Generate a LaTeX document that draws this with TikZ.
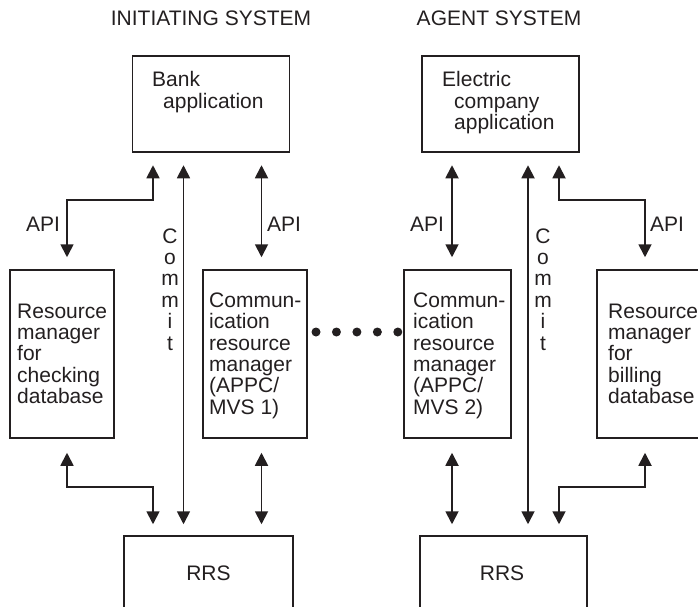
\documentclass[tikz,border=0pt]{standalone}
\usepackage{fontspec}
\setmainfont{Liberation Sans}
\usetikzlibrary{arrows.meta,calc}
\definecolor{ink}{RGB}{35,31,32}
\newcommand\stackL[1]{\vtop{\halign{##\hfil\cr#1\crcr}}}
\newcommand\stackC[1]{\vtop{\halign{\hfil##\hfil\cr#1\crcr}}}
\begin{document}
\begin{tikzpicture}[x=1pt,y=-1pt,
  font=\fontsize{21}{21.4}\selectfont,
  box/.style={draw=ink, line width=1.5pt, inner sep=0pt, rectangle},
  txt/.style={inner sep=0pt, anchor=base west, text=ink},
  ctxt/.style={inner sep=0pt, anchor=base, text=ink},
  conn/.style={draw=ink, line width=1.8pt,
    {Triangle[length=13pt,width=13pt]}-{Triangle[length=13pt,width=13pt]}},
  fromtop/.style={shorten <=12.5pt},
  frombot/.style={shorten <=14pt},
  totop/.style={shorten >=12pt},
  torrs/.style={shorten >=11pt}]
\path[use as bounding box] (0,0) rectangle (698,607);
\clip (0,0) rectangle (698,607);

% titles
\node[ctxt] (t1) at (211,26) {INITIATING SYSTEM};
\node[ctxt] (t2) at (499,26) {AGENT SYSTEM};

% boxes
\node[box, minimum width=156.6pt, minimum height=96pt] (bank) at (211,104) {};
\node[box, minimum width=157pt, minimum height=96pt] (elec) at (500.5,104) {};
\node[box, minimum width=104pt, minimum height=168pt] (rm1) at (62,354) {};
\node[box, minimum width=104pt, minimum height=168pt] (cm1) at (255,354) {};
\node[box, minimum width=107pt, minimum height=168pt] (cm2) at (457.5,354) {};
\node[box, minimum width=110pt, minimum height=168pt] (rm2) at (652,354) {};
\node[box, minimum width=169pt, minimum height=100pt] (rrs1) at (208.5,586) {};
\node[box, minimum width=167pt, minimum height=100pt] (rrs2) at (503.5,586) {};

% box texts
\node[txt] (tbank) at (152,87) {\stackL{Bank\cr\hspace*{11pt}application}};
\node[txt] (telec) at (442,87) {\stackL{Electric\cr\hspace*{12pt}company\cr\hspace*{12pt}application}};
\node[txt] (trm1) at (17,318) {\stackL{Resource\cr manager\cr for\cr checking\cr database}};
\node[txt] (tcm1) at (209,307.2) {\stackL{Commun-\cr ication\cr resource\cr manager\cr (APPC/\cr MVS 1)}};
\node[txt] (tcm2) at (413,307.2) {\stackL{Commun-\cr ication\cr resource\cr manager\cr (APPC/\cr MVS 2)}};
\node[txt] (trm2) at (608,318) {\stackL{Resource\cr manager\cr for\cr billing\cr database}};
\node[ctxt] (trrs1) at (208.5,580) {RRS};
\node[ctxt] (trrs2) at (502,580) {RRS};

% commit labels
\node[ctxt] (tc1) at (170,243) {\stackC{C\cr o\cr m\cr m\cr i\cr t}};
\node[ctxt] (tc2) at (543,243) {\stackC{C\cr o\cr m\cr m\cr i\cr t}};

% API labels
\node[txt] (api1) at (26,231) {API};
\node[txt] (api2) at (267,231) {API};
\node[txt] (api3) at (410,231) {API};
\node[txt] (api4) at (650,231) {API};

% columns and bend levels
\coordinate (kA) at (153,0);
\coordinate (kRM1) at (67,0);
\coordinate (kC1) at (183.5,0);
\coordinate (kM1) at (261.5,0);
\coordinate (kM2) at (452,0);
\coordinate (kC2) at (528,0);
\coordinate (kB) at (559,0);
\coordinate (kRM2) at (645,0);
\coordinate (ytop) at (0,200);
\coordinate (ybot) at (0,487);

% initiating system connectors
\draw[conn, fromtop, totop] (kA |- bank.south) -- (kA |- ytop) -| (kRM1 |- rm1.north);
\draw[conn, fromtop, torrs] (kC1 |- bank.south) -- (kC1 |- rrs1.north);
\draw[conn, fromtop, totop] (kM1 |- bank.south) -- (kM1 |- cm1.north);
\draw[conn, frombot, torrs] (kRM1 |- rm1.south) -- (kRM1 |- ybot) -| (kA |- rrs1.north);
\draw[conn, frombot, torrs] (kM1 |- cm1.south) -- (kM1 |- rrs1.north);

% agent system connectors
\draw[conn, fromtop, totop] (kM2 |- elec.south) -- (kM2 |- cm2.north);
\draw[conn, fromtop, torrs] (kC2 |- elec.south) -- (kC2 |- rrs2.north);
\draw[conn, fromtop, totop] (kB |- elec.south) -- (kB |- ytop) -| (kRM2 |- rm2.north);
\draw[conn, frombot, torrs] (kM2 |- cm2.south) -- (kM2 |- rrs2.north);
\draw[conn, frombot, torrs] (kRM2 |- rm2.south) -- (kRM2 |- ybot) -| (kB |- rrs2.north);

% dotted link between communication managers
\draw[ink, line width=9pt, line cap=round, dash pattern=on 0pt off 20.45pt,
  shorten <=8.25pt, shorten >=5.25pt]
  ($(cm1.east)+(0,-22)$) -- ($(cm2.west)+(0,-22)$);
\end{tikzpicture}
\end{document}
